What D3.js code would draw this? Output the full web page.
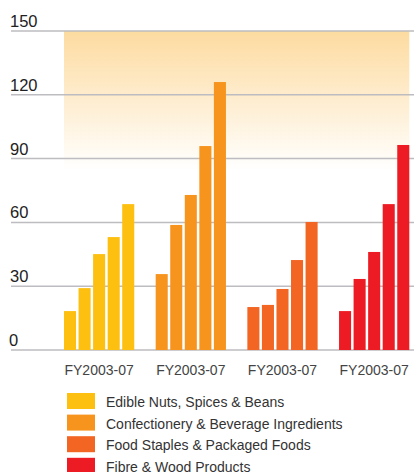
<!DOCTYPE html>
<html>
<head>
<meta charset="utf-8">
<script src="https://cdn.jsdelivr.net/npm/d3@7"></script>
<style>
  body { margin: 0; background: #fff; }
  svg { display: block; font-family: "Liberation Sans", Arial, sans-serif; }
</style>
</head>
<body>
<div id="chart"></div>
<script>
const segments = ["Edible Nuts, Spices & Beans", "Confectionery & Beverage Ingredients", "Food Staples & Packaged Foods", "Fibre & Wood Products"];
const groupLabels = ["FY2003-07", "FY2003-07", "FY2003-07", "FY2003-07"];
const years = ["FY2003", "FY2004", "FY2005", "FY2006", "FY2007"];
const colors = ["#fdc010", "#f7941e", "#f26522", "#ed1c24"];
const yTicks = [0, 30, 60, 90, 120, 150];

const nutsValues = [18.3, 29.1, 45.1, 53.1, 68.6];
const confectioneryValues = [35.7, 58.8, 72.9, 95.9, 126];
const staplesValues = [20.2, 21.2, 28.7, 42.3, 60.2];
const fibreValues = [18.3, 33.4, 46.1, 68.6, 96.4];
const seriesValues = [nutsValues, confectioneryValues, staplesValues, fibreValues];

const width = 414, height = 472;

const svg = d3.select("#chart").append("svg")
    .attr("width", width)
    .attr("height", height);

const y = d3.scaleLinear().domain([0, 150]).range([350, 31]);

const x = d3.scaleBand()
    .domain(d3.range(segments.length))
    .range([64, 409.3])
    .paddingInner(0.2336)
    .paddingOuter(0);

const xYear = d3.scaleBand()
    .domain(years)
    .range([0, x.bandwidth()])
    .paddingInner(0.172)
    .paddingOuter(0);

// soft background glow behind the upper part of the plot
const defs = svg.append("defs");
const grad = defs.append("linearGradient")
    .attr("id", "glow")
    .attr("x1", 0).attr("y1", 0).attr("x2", 0).attr("y2", 1);
grad.append("stop").attr("offset", "0%").attr("stop-color", "#fddba0");
grad.append("stop").attr("offset", "100%").attr("stop-color", "#ffffff");

svg.append("rect")
    .attr("x", x.range()[0])
    .attr("y", y(150))
    .attr("width", x.range()[1] - x.range()[0])
    .attr("height", 170 - y(150))
    .attr("fill", "url(#glow)");

// gridlines
svg.append("g")
    .selectAll("line")
    .data(yTicks)
    .join("line")
        .attr("x1", 11)
        .attr("x2", width)
        .attr("y1", d => y(d))
        .attr("y2", d => y(d))
        .attr("stroke", "#bdbcc0")
        .attr("stroke-width", 1.5);

svg.append("g")
    .selectAll("text")
    .data(yTicks)
    .join("text")
        .attr("x", d => d === 0 ? 9 : 10)
        .attr("y", d => y(d) - 4)
        .attr("font-size", 16.5)
        .attr("fill", "#222")
        .text(d => d);

// bars
const groups = svg.append("g")
    .selectAll("g")
    .data(seriesValues)
    .join("g")
        .attr("transform", (d, i) => `translate(${x(i)},0)`)
        .attr("fill", (d, i) => colors[i]);

groups.selectAll("rect")
    .data(d => d)
    .join("rect")
        .attr("x", (d, i) => xYear(years[i]))
        .attr("y", d => y(d))
        .attr("width", xYear.bandwidth())
        .attr("height", d => y(0) - y(d));

// category labels
svg.append("g")
    .selectAll("text")
    .data(groupLabels)
    .join("text")
        .attr("x", (d, i) => x(i) + x.bandwidth() / 2)
        .attr("y", 375)
        .attr("text-anchor", "middle")
        .attr("font-size", 14)
        .attr("fill", "#444")
        .text(d => d);

// legend
const legend = svg.append("g")
    .selectAll("g")
    .data(segments)
    .join("g")
        .attr("transform", (d, i) => `translate(67,${393 + i * 21.6})`);

legend.append("rect")
    .attr("width", 28)
    .attr("height", 16)
    .attr("fill", (d, i) => colors[i]);

legend.append("text")
    .attr("x", 39)
    .attr("y", 14)
    .attr("font-size", 14)
    .attr("fill", "#333")
    .text(d => d);
</script>
</body>
</html>
